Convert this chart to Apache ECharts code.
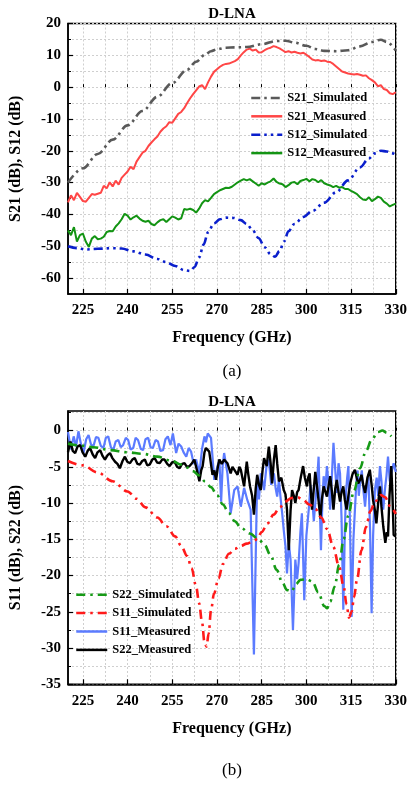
<!DOCTYPE html>
<html><head><meta charset="utf-8">
<script src="https://cdn.jsdelivr.net/npm/echarts@6/dist/echarts.min.js"></script>
<style>html,body{margin:0;padding:0;background:#fff}#c{width:410px;height:785px}</style>
</head><body><div id="c"></div>
<script>
// ---------- tick labels ----------
const xMajor = [225,240,255,270,285,300,315,330];
const xMinor = [225,232.5,240,247.5,255,262.5,270,277.5,285,292.5,300,307.5,315,322.5,330];
const yTopMajor = [-60,-50,-40,-30,-20,-10,0,10,20];
const yTopMinor = [-60,-55,-50,-45,-40,-35,-30,-25,-20,-15,-10,-5,0,5,10,15,20];
const yBotMajor = [-35,-30,-25,-20,-15,-10,-5,0];
const yBotMinor = [-35,-32.5,-30,-27.5,-25,-22.5,-20,-17.5,-15,-12.5,-10,-7.5,-5,-2.5,0,2.5];

// ---------- (a) series ----------
const s21SimF = [220,225,230,235,240,245,250,255,260,263,266,268,270,273,276,280,285,290,293,296,300,303,306,310,314,318,322,325,327,330];
const s21SimV = [-30,-25.5,-21,-16.5,-12,-7.5,-3,1.3,5.5,8,10.2,11.3,11.9,12.4,12.5,12.6,13.5,14.5,14.6,14,13,12,11.4,11.3,11.6,12.8,14.2,14.9,14.2,11.5];

const measF = [220,221,222,223,224,225,226,227,228,229,230,231,232,233,234,235,236,237,238,239,240,241,242,243,244,245,246,247,248,249,250,251,252,253,254,255,256,257,258,259,260,261,262,263,264,265,266,267,268,269,270,271,272,273,274,275,276,277,278,279,280,281,282,283,284,285,286,287,288,289,290,291,292,293,294,295,296,297,298,299,300,301,302,303,304,305,306,307,308,309,310,311,312,313,314,315,316,317,318,319,320,321,322,323,324,325,326,327,328,329,330];
const s21MeasV = [-36.2,-34.0,-35.5,-33.2,-34.5,-35.8,-36.0,-34.8,-33.6,-33.8,-33.5,-33.2,-31.0,-31.8,-29.9,-31.2,-29.4,-30.6,-28.5,-27.5,-26.5,-25.0,-25.8,-23.4,-22.0,-20.6,-20.0,-18.5,-17.4,-16.4,-15.5,-14.0,-13.0,-12.3,-11.0,-11.2,-9.8,-8.4,-7.8,-6.6,-5.0,-3.5,-2.2,-1.0,0.2,0.6,-0.6,1.5,3.3,4.8,5.6,6.4,7.0,7.3,7.4,7.8,8.2,8.8,10.0,11.0,11.8,12.1,11.5,11.8,10.9,11.0,11.6,12.1,12.4,12.9,12.6,12.2,11.6,11.0,11.3,10.9,11.1,10.8,10.6,10.8,10.2,9.5,8.7,8.4,8.5,8.2,8.4,8.0,7.9,7.3,6.5,5.7,4.9,4.6,4.3,4.1,4.0,4.1,3.9,3.6,3.7,2.8,2.2,1.5,0.3,0.6,-0.6,-0.9,-1.9,-2.2,-1.6];
const s12MeasV = [-45.0,-46.5,-44.0,-48.5,-46.5,-46.0,-48.6,-50.2,-47.6,-46.8,-47.8,-47.6,-47.0,-45.5,-45.2,-45.3,-43.8,-42.8,-41.5,-39.8,-40.4,-41.6,-40.9,-40.4,-41.3,-42.0,-42.3,-42.0,-43.0,-43.4,-42.5,-41.8,-41.5,-42.4,-41.5,-40.6,-41.0,-41.6,-41.2,-38.3,-38.5,-38.2,-38.6,-39.4,-38.2,-36.5,-35.5,-35.9,-34.8,-33.6,-33.0,-32.4,-32.0,-31.6,-31.7,-31.3,-30.6,-29.9,-29.4,-28.9,-29.3,-28.9,-29.6,-30.3,-31.0,-30.2,-30.6,-30.0,-29.6,-28.7,-29.8,-30.3,-30.5,-31.4,-30.8,-30.0,-29.8,-30.5,-29.5,-29.2,-28.8,-29.6,-28.9,-29.2,-29.9,-29.2,-30.2,-30.6,-30.9,-31.4,-31.0,-31.6,-31.4,-32.0,-32.0,-32.6,-33.1,-33.6,-34.6,-35.3,-35.5,-34.6,-35.8,-35.2,-34.4,-34.8,-36.0,-36.6,-37.5,-37.0,-36.6];

const s12SimF = [220,223,226,230,235,238,242,246,250,253,256,259,261,262.5,264,265.5,267,269,271,273,275.5,278,280,282,284,286,288,289.5,291,292.5,294,296,299,302,306,310,314,318,321,323,325,327,329,330];
const s12SimV = [-50,-50.6,-51,-50.8,-50.6,-50.7,-51.6,-52.6,-54,-55,-56.2,-57.5,-57.8,-56.5,-53.5,-49.5,-45.6,-42.8,-41.5,-41,-41.1,-41.8,-43,-45,-47.5,-50.3,-52.5,-53.3,-51.5,-48.5,-45.3,-43,-40.8,-38.9,-36.3,-33,-29.3,-25.2,-22.4,-20.8,-20,-20.2,-20.8,-21.2];

// ---------- (b) series ----------
const s22SimF = [220,225,228.5,234,240,245,250,255,258,260,262,264,266,268,270,272,274,276,278,281,284,286,288,290,292,293.5,295,296.5,298,300,302,304,306,307,308,309.5,311,312.5,314,316,318,320,322,324,325.5,327,328.5];
const s22SimV = [-1.8,-2.1,-2.3,-2.7,-3.0,-3.2,-3.6,-4.2,-4.7,-5.1,-5.6,-6.2,-7.0,-7.8,-8.9,-10.2,-11.4,-12.5,-13.4,-14.2,-15.0,-15.8,-17.2,-19.2,-21,-22,-22.2,-21.2,-20.6,-20.5,-20.8,-22.3,-24.2,-24.5,-23.6,-21.5,-18.5,-15,-11.8,-8.3,-5.2,-2.8,-1.2,-0.2,0,-0.3,-0.8];

const s11SimF = [220,225,230,235,240,243,246,250,253,256,258,260,261.5,263,264,265,265.8,266.5,267.2,268,269,270.5,272,274,276,278,280,282,283.5,285,287,289,291,293,295,297,299,301,303,305,307,309,311,312.5,313.5,314.3,315.2,316,317,318.5,320,321.5,323,325,326.5,328,330];
const s11SimV = [-4.2,-4.8,-5.8,-7.0,-8.4,-9.4,-10.6,-12.0,-13.2,-14.6,-15.9,-17.3,-19,-21.5,-23.8,-26.5,-29.2,-29.8,-28,-24.8,-22.5,-20.4,-18.4,-17,-16.3,-15.9,-15.6,-15.3,-15.0,-14.0,-12.8,-11.6,-10.6,-9.8,-9.3,-9.2,-9.6,-10.2,-10.8,-12.0,-13.6,-16,-18.8,-21.5,-24,-25.8,-25,-23,-20.6,-16.5,-13.3,-11.1,-9.8,-8.9,-9.2,-10.4,-11.5];

const s11MeasF = [220.0,221.0,221.9,222.7,223.5,224.4,225.2,226.1,226.9,227.7,228.5,229.4,230.2,231.0,231.9,232.7,233.5,234.4,235.2,236.0,236.9,237.7,238.5,239.4,240.2,241.0,241.9,242.7,243.5,244.4,245.2,246.0,246.9,247.7,248.5,249.4,250.2,251.0,251.9,252.7,253.5,254.4,255.2,256.3,257.1,258.0,258.8,259.7,260.5,261.3,262.2,263.0,264.1,265.0,265.8,266.3,266.9,268.0,269.1,270.0,270.8,271.4,271.9,272.4,273.5,274.6,275.8,276.9,278.0,279.1,280.2,281.3,282.4,283.5,284.1,284.7,285.3,285.8,286.6,287.4,288.2,289.1,289.7,290.2,290.8,291.3,291.9,292.4,293.0,293.5,294.1,294.7,295.5,296.3,296.9,297.4,298.0,298.5,299.3,300.0,300.8,301.4,301.9,302.5,303.0,303.6,304.1,304.9,305.4,305.8,306.4,306.9,307.5,308.0,308.6,309.1,309.7,310.2,310.8,311.3,311.8,312.4,312.9,313.3,313.7,314.1,314.6,315.2,315.8,316.3,316.8,317.2,317.6,318.0,318.6,319.2,319.7,320.3,320.8,321.4,321.9,322.4,323.0,323.6,324.1,324.7,325.2,325.8,326.4,326.9,327.4,328.0,328.5,329.3,330.0];
const s11MeasV = [-0.2,-2.6,-0.8,-2.2,-0.1,-2.0,-3.1,-1.2,-0.6,-1.9,-2.2,-0.9,-1.0,-2.1,-2.4,-1.0,-0.8,-2.3,-2.7,-1.5,-1.3,-2.3,-2.0,-1.0,-1.3,-2.6,-2.4,-1.0,-1.3,-2.5,-2.7,-1.2,-1.0,-2.3,-2.4,-1.3,-1.5,-2.8,-2.7,-1.2,-0.8,-2.0,-0.4,-3.1,-1.8,-2.2,-3.0,-3.6,-2.4,-2.9,-4.6,-4.0,-5.9,-2.5,-0.8,-1.6,-0.4,-1.0,-6.8,-5.2,-4.0,-9.8,-4.9,-3.1,-5.9,-11.4,-8.2,-7.7,-10.5,-7.9,-9.6,-10.9,-30.9,-6.3,-9.5,-5.9,-7.0,-8.2,-5.0,-4.0,-7.5,-5.9,-8.0,-9.1,-6.8,-9.1,-11.5,-13.7,-16.0,-19.7,-15.5,-17.8,-27.5,-17.8,-20.5,-18.3,-14.0,-11.4,-23.4,-14.5,-10.9,-7.5,-9.1,-12.5,-10.0,-7.0,-3.6,-16.5,-9.5,-6.3,-8.0,-4.9,-7.5,-10.9,-6.0,-1.7,-5.5,-8.6,-4.5,-5.9,-12.0,-24.7,-14.0,-8.6,-6.5,-4.9,-12.0,-25.7,-15.0,-10.9,-7.0,-5.5,-9.0,-7.3,-5.5,-8.5,-10.5,-7.5,-6.0,-14.0,-25.2,-14.5,-8.2,-6.5,-9.0,-4.9,-7.0,-10.9,-8.0,-6.2,-3.6,-7.0,-5.9,-4.5,-5.7];

const s22MeasF = [220.0,220.8,221.6,222.4,223.2,224.1,224.9,225.8,226.6,227.4,228.3,229.1,229.9,230.8,231.6,232.4,233.3,234.1,234.9,235.8,236.6,237.4,238.3,239.1,239.9,240.8,241.6,242.4,243.3,244.1,244.9,245.8,246.6,247.4,248.3,249.1,249.9,250.8,251.6,252.4,253.3,254.1,254.9,255.8,256.6,257.4,258.3,259.1,259.9,260.8,261.6,262.4,263.3,264.1,264.7,265.2,265.8,266.3,267.4,268.5,269.1,269.7,270.3,270.8,271.6,272.4,273.5,274.6,275.2,275.8,276.9,277.5,278.0,279.1,280.0,280.5,281.1,281.8,282.4,283.0,283.5,284.1,284.7,285.3,285.8,286.7,287.4,288.0,288.5,289.1,289.7,290.2,290.8,291.6,292.4,293.0,293.5,294.1,294.7,295.2,295.8,296.3,296.9,297.4,298.1,298.9,299.5,300.2,300.6,301.1,301.9,302.5,303.0,303.8,304.7,305.2,305.8,306.4,306.9,307.5,308.0,308.6,309.1,309.7,310.2,310.8,311.3,311.8,312.4,312.9,313.5,314.1,314.7,315.5,316.3,316.9,317.4,318.0,318.5,319.1,319.7,320.5,321.3,321.9,322.4,323.0,323.5,324.1,324.7,325.2,325.8,326.5,327.0,327.4,327.9,328.5,328.9,329.3,330.0];
const s22MeasV = [-3.0,-1.5,-2.8,-3.1,-2.2,-2.0,-3.0,-3.6,-2.8,-2.4,-3.3,-3.8,-3.0,-2.7,-3.5,-4.0,-3.4,-3.1,-3.8,-4.3,-4.6,-5.2,-4.2,-3.6,-4.3,-4.5,-4.0,-3.8,-4.6,-4.7,-4.2,-4.0,-4.8,-4.7,-4.0,-3.8,-4.4,-4.5,-4.0,-4.0,-4.6,-4.9,-4.4,-4.3,-5.0,-5.2,-4.6,-4.5,-5.0,-4.9,-4.5,-4.0,-5.5,-7.0,-5.5,-4.9,-3.0,-2.4,-2.9,-6.1,-5.5,-6.8,-5.0,-4.0,-4.6,-4.0,-4.5,-5.9,-5.0,-5.2,-6.1,-5.0,-5.4,-7.7,-4.3,-6.0,-7.7,-9.0,-11.6,-8.0,-6.1,-7.5,-8.2,-5.5,-3.8,-4.9,-2.2,-4.5,-7.3,-4.0,-2.0,-4.5,-7.0,-6.5,-8.2,-8.8,-10.9,-16.5,-11.0,-8.2,-9.0,-10.0,-8.5,-8.2,-6.5,-4.9,-6.5,-7.7,-6.5,-5.9,-10.9,-8.0,-5.7,-8.5,-12.1,-9.5,-7.7,-8.5,-9.1,-7.5,-6.3,-8.5,-10.9,-8.0,-6.8,-8.5,-9.8,-8.5,-7.7,-9.5,-10.9,-9.0,-7.3,-6.0,-5.4,-6.5,-7.3,-6.8,-6.1,-7.5,-8.6,-6.5,-5.4,-7.5,-9.6,-11.0,-12.8,-10.0,-7.7,-10.5,-13.2,-15.5,-14.0,-14.6,-9.0,-4.9,-9.0,-14.4,-14.6];

// ---------- build ----------
const zip = (f, v) => f.map((x, i) => [x, v[i]]);
const FONT = "'Liberation Serif','Times New Roman',serif";
const lbl = {fontFamily: FONT, fontWeight: 'bold', fontSize: 15, color: '#000'};

function xAxes(grid, name, gap) {
  return [
    {gridIndex: grid, type: 'value', min: 220, max: 330, position: 'bottom',
     name: name, nameLocation: 'middle', nameGap: gap,
     nameTextStyle: {fontFamily: FONT, fontWeight: 'bold', fontSize: 16, color: '#000'},
     axisLine: {onZero: false, lineStyle: {color: '#000', width: 1.5}},
     axisTick: {inside: true, length: 5, customValues: xMajor, lineStyle: {color: '#000', width: 1.2}},
     axisLabel: Object.assign({margin: 9, customValues: xMajor}, lbl),
     splitLine: {show: false}},
    {gridIndex: grid, type: 'value', min: 220, max: 330, position: 'bottom',
     axisLine: {show: false},
     axisTick: {inside: true, length: 3, customValues: xMinor, lineStyle: {color: '#000', width: 1}},
     axisLabel: {show: false},
     splitLine: {show: true, lineStyle: {color: '#cfcfcf', width: 1, type: [2, 2]}}}
  ];
}
function yAxes(grid, min, max, major, minor, name, gap) {
  return [
    {gridIndex: grid, type: 'value', min: min, max: max, position: 'left',
     name: name, nameLocation: 'middle', nameGap: gap,
     nameTextStyle: {fontFamily: FONT, fontWeight: 'bold', fontSize: 16, color: '#000'},
     axisLine: {onZero: false, lineStyle: {color: '#000', width: 1.5}},
     axisTick: {inside: true, length: 5, customValues: major, lineStyle: {color: '#000', width: 1.2}},
     axisLabel: Object.assign({margin: 7, customValues: major}, lbl),
     splitLine: {show: false}},
    {gridIndex: grid, type: 'value', min: min, max: max, position: 'left',
     axisLine: {show: false},
     axisTick: {inside: true, length: 3, customValues: minor, lineStyle: {color: '#000', width: 1}},
     axisLabel: {show: false},
     splitLine: {show: true, lineStyle: {color: '#cfcfcf', width: 1, type: [2, 2]}}}
  ];
}
function ser(name, data, xi, color, width, dash, z, smooth) {
  return {name: name, type: 'line', xAxisIndex: xi, yAxisIndex: xi, data: data,
    symbol: 'none', showSymbol: false, smooth: smooth ? 0.35 : false, smoothMonotone: 'x',
    z: z, animation: false,
    lineStyle: {color: color, width: width, type: dash || 'solid', cap: 'butt'},
    itemStyle: {color: color}};
}
const legendText = {fontFamily: FONT, fontWeight: 'bold', fontSize: 12.5, color: '#000'};
const legendCommon = {orient: 'vertical', padding: 0, itemWidth: 31, itemHeight: 14, itemGap: 5.4,
  itemStyle: {opacity: 0}, lineStyle: {width: 2.5}, textStyle: legendText};

const option = {
  animation: false,
  grid: [
    {left: 68, right: 13, top: 23.5, height: 270.5, show: true, borderColor: '#000', borderWidth: 1.5, backgroundColor: '#fff'},
    {left: 68, right: 13, top: 411, height: 273.3, show: true, borderColor: '#000', borderWidth: 1.5, backgroundColor: '#fff'}
  ],
  xAxis: [].concat(xAxes(0, 'Frequency (GHz)', 36), xAxes(1, 'Frequency (GHz)', 37)),
  yAxis: [].concat(
    yAxes(0, -65, 20, yTopMajor, yTopMinor, 'S21 (dB), S12 (dB)', 44),
    yAxes(1, -35, 2.7, yBotMajor, yBotMinor, 'S11 (dB), S22 (dB)', 44)),
  legend: [
    Object.assign({left: 250, top: 91.4, data: ['S21_Simulated', 'S21_Measured', 'S12_Simulated', 'S12_Measured']}, legendCommon),
    Object.assign({left: 75, top: 588.2, data: ['S22_Simulated', 'S11_Simulated', 'S11_Measured', 'S22_Measured']}, legendCommon)
  ],
  series: [
    ser('S21_Measured', zip(measF, s21MeasV), 0, '#ff4646', 2, null, 3, false),
    ser('S12_Measured', zip(measF, s12MeasV), 0, '#139413', 2, null, 3, false),
    ser('S21_Simulated', zip(s21SimF, s21SimV), 0, '#595959', 2.6, [9, 4, 2.5, 4], 4, true),
    ser('S12_Simulated', zip(s12SimF, s12SimV), 0, '#0a1fcc', 2.6, [9, 4, 2.5, 4, 2.5, 4], 4, true),
    ser('S11_Measured', zip(s11MeasF, s11MeasV), 2, '#5b7bff', 2.2, null, 3, false),
    ser('S22_Measured', zip(s22MeasF, s22MeasV), 2, '#000000', 2.4, null, 3, false),
    ser('S22_Simulated', zip(s22SimF, s22SimV), 2, '#169a16', 2.6, [9, 5, 2.5, 5], 4, true),
    ser('S11_Simulated', zip(s11SimF, s11SimV), 2, '#ff1a1a', 2.6, [9, 5, 2.5, 5], 4, true)
  ],
  graphic: [
    {type: 'text', x: 232, y: 14, style: {text: 'D-LNA', font: "bold 15px 'Liberation Serif'", align: 'center', verticalAlign: 'middle', fill: '#000'}},
    {type: 'text', x: 232, y: 402, style: {text: 'D-LNA', font: "bold 15px 'Liberation Serif'", align: 'center', verticalAlign: 'middle', fill: '#000'}},
    {type: 'text', x: 232, y: 372, style: {text: '(a)', font: "17px 'Liberation Serif'", align: 'center', verticalAlign: 'middle', fill: '#000'}},
    {type: 'text', x: 232, y: 771, style: {text: '(b)', font: "17px 'Liberation Serif'", align: 'center', verticalAlign: 'middle', fill: '#000'}}
  ]
};
const chart = echarts.init(document.getElementById('c'), null, {renderer: 'canvas'});
chart.setOption(option);
</script></body></html>
